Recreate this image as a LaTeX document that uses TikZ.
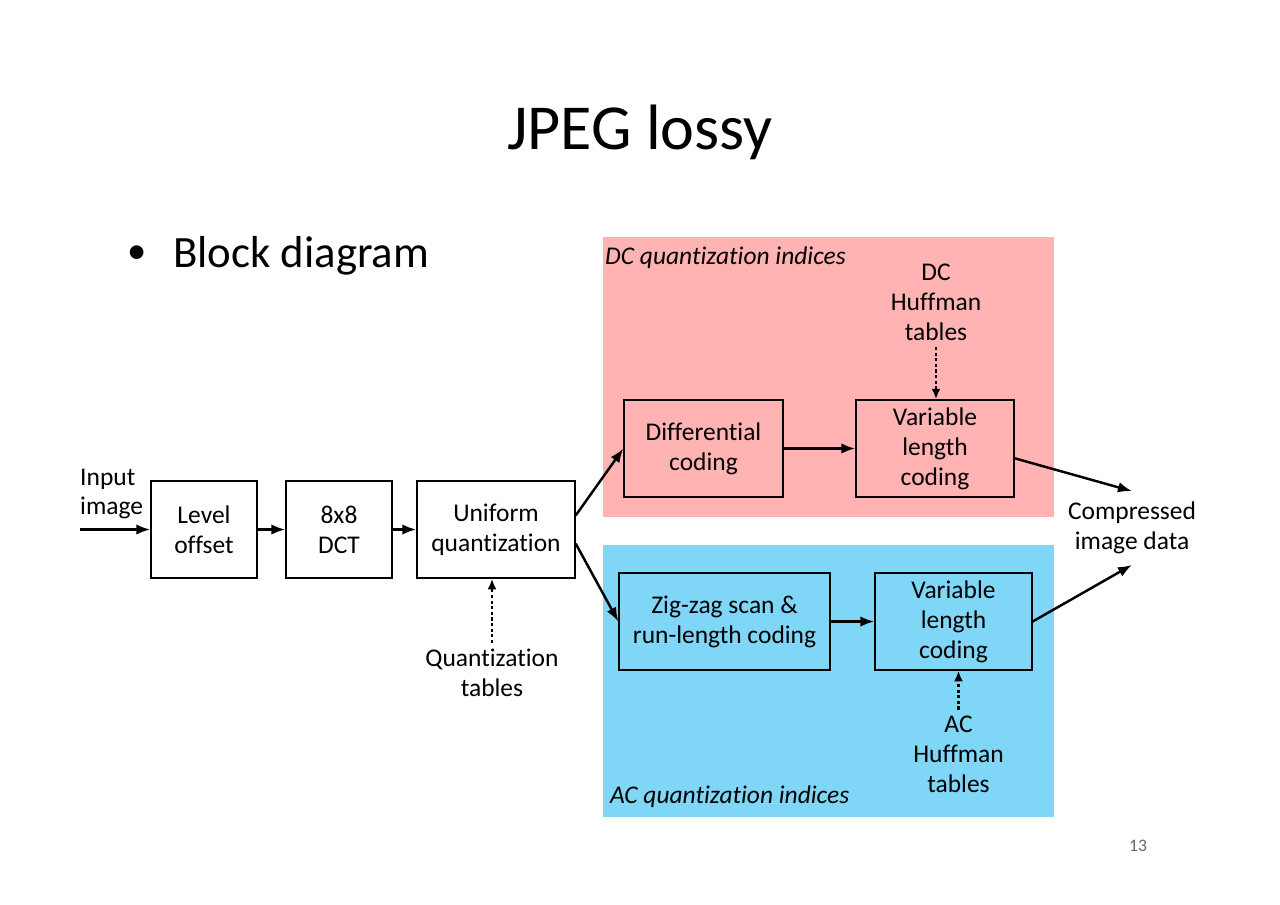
\documentclass[tikz,border=0pt]{standalone}
\usepackage{fontspec}
\setmainfont{Carlito}[Ligatures=NoCommon]
\usetikzlibrary{arrows.meta}
\definecolor{dcpink}{RGB}{255,179,179}
\definecolor{acblue}{RGB}{128,214,247}
\tikzset{
  blk/.style={rectangle, draw=black, line width=0.8pt, minimum height=1.94cm, align=center, font=\fontsize{14.5}{17}\selectfont},
  lbl/.style={align=center, font=\fontsize{14.5}{17}\selectfont}
}
\tikzstyle{arrow} = [line width=1.4pt,black,->,>={Latex[length=8pt,width=6pt]}]
\tikzstyle{dotarrow} = [line width=1.6pt,black,dash pattern=on 1.8pt off 1.4pt,->,>={Latex[length=6pt,width=5pt]}]

\begin{document}
\begin{tikzpicture}[x=0.02cm,y=-0.02cm]
    \useasboundingbox (0,0) rectangle (1280,904);
    % coloured regions
    \fill [dcpink] (603,237) rectangle (1054,517);
    \fill [acblue] (603,545) rectangle (1054,817);
    \node [font=\fontsize{36.5}{43}\selectfont] (title) at (640,132) {JPEG lossy};
    \node [font=\fontsize{22}{26}\selectfont] (bul) at (137,255) {\textbullet};
    \node [font=\fontsize{25.5}{30}\selectfont, anchor=west] (bd) at (167,256) {Block diagram};
    \node [lbl, anchor=west, font=\fontsize{14.5}{17}\selectfont\itshape] (dcl) at (599,258) {DC quantization indices};
    \node [lbl, anchor=west, font=\fontsize{14.5}{17}\selectfont\itshape] (acl) at (604,797) {AC quantization indices};
    % blocks
    \node [blk, minimum width=2.12cm] (lvl) at (204,529.5) {Level\\offset};
    \node [blk, minimum width=2.12cm] (dct) at (339,529.5) {8x8\\DCT};
    \node [blk, minimum width=3.16cm] (uq) at (496,529.5) {Uniform\\quantization};
    \node [blk, minimum width=3.18cm] (diff) at (703.5,448.5) {Differential\\coding};
    \node [blk, minimum width=3.16cm] (vlcdc) at (935,448.5) {Variable\\length\\coding};
    \node [blk, minimum width=4.22cm] (zz) at (724.5,621.5) {Zig-zag scan \&\\run-length coding};
    \node [blk, minimum width=3.14cm] (vlcac) at (953.5,621.5) {Variable\\length\\coding};
    % labels
    \node [lbl, align=left, anchor=west] (inp) at (74,494) {Input\\image};
    \coordinate (src) at (80,529.5);
    \node [lbl] (qt) at (492,673) {Quantization\\tables};
    \node [lbl] (dch) at (936,302.5) {DC\\Huffman\\tables};
    \node [lbl] (ach) at (958.5,754) {AC\\Huffman\\tables};
    \node [lbl, minimum height=1.46cm] (cid) at (1132,528) {Compressed\\image data};
    \node [font=\fontsize{10}{12}\selectfont, text=black!60] (pg) at (1138,846) {13};
    % connectors
    \draw [arrow] (src) -- (lvl);
    \draw [arrow] (lvl) -- (dct);
    \draw [arrow] (dct) -- (uq);
    \draw [arrow] (uq.10) -- (diff.west);
    \draw [arrow] (uq.-10) -- (zz.west);
    \draw [arrow] (diff) -- (vlcdc);
    \draw [arrow] (zz) -- (vlcac);
    \draw [arrow] (vlcdc.-7) -- (cid.north);
    \draw [arrow] (vlcac.east) -- (cid.south);
    \draw [dotarrow] (qt.north) -- (qt.north |- uq.south);
    \draw [dotarrow] (dch.south) -- (dch.south |- vlcdc.north);
    \draw [dotarrow] (ach.north) -- (ach.north |- vlcac.south);
\end{tikzpicture}
\end{document}
